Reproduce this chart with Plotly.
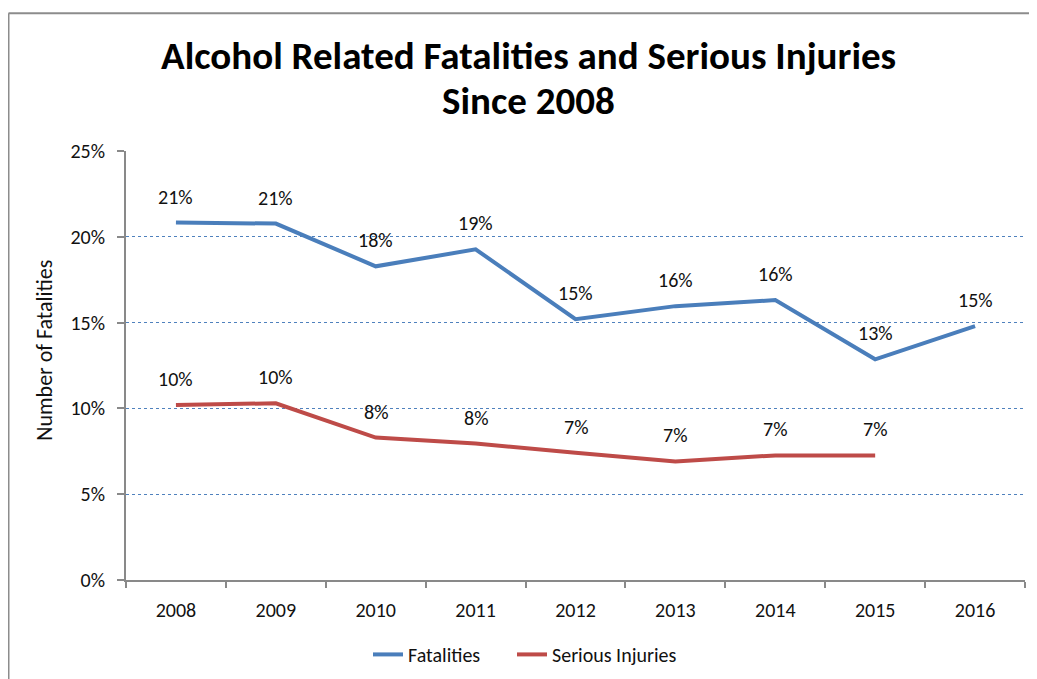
import plotly.graph_objects as go

years = ["2008", "2009", "2010", "2011", "2012", "2013", "2014", "2015", "2016"]
fatalities = [0.2083, 0.2077, 0.1828, 0.1927, 0.1520, 0.1596, 0.1631, 0.1286, 0.1480]
serious_years = ["2008", "2009", "2010", "2011", "2012", "2013", "2014", "2015"]
serious = [0.1020, 0.1030, 0.0830, 0.0795, 0.0741, 0.0691, 0.0726, 0.0726]
title_lines = ["Alcohol Related Fatalities and Serious Injuries", "Since 2008"]

BLUE = "#4A7EBB"
RED = "#BE4B48"
GRAY = "#898989"
FONT = "Calibri, Carlito, Lato, sans-serif"

W, H = 1037, 679
OFF = 8  # page body margin
# plot area in screen pixels
L, R, T, B = 126, 1025, 151, 580.5

def px(xs):
    return (xs - L) / (R - L)

def py(ys):
    return (B - ys) / (B - T)

fig = go.Figure()
fig.add_trace(go.Scatter(x=years, y=fatalities, mode="lines", name="Fatalities",
                         line=dict(color=BLUE, width=4), legend="legend"))
fig.add_trace(go.Scatter(x=serious_years, y=serious, mode="lines", name="Serious Injuries",
                         line=dict(color=RED, width=4), legend="legend2"))

annotations = []
for xs, ys in ((years, fatalities), (serious_years, serious)):
    for xv, yv in zip(xs, ys):
        annotations.append(dict(x=years.index(xv), y=yv, xref="x", yref="y",
                                text=f"{yv:.0%}", showarrow=False, yshift=26,
                                font=dict(family=FONT, size=20, color="#111")))

for line_text, ys in zip(title_lines, (55, 100)):
    annotations.append(dict(x=px(528), y=py(ys), xref="paper", yref="paper",
                            text=f"<b>{line_text}</b>", showarrow=False,
                            xanchor="center", yanchor="middle",
                            font=dict(family=FONT, size=39, color="black")))

annotations.append(dict(x=px(45), y=py(351), xref="paper", yref="paper",
                        text="Number of Fatalities", textangle=-90, showarrow=False,
                        xanchor="center", yanchor="middle",
                        font=dict(family=FONT, size=22, color="#111")))

shapes = [
    dict(type="line", xref="paper", yref="paper", x0=px(8.5), x1=px(W + 20),
         y0=py(13), y1=py(13), line=dict(color="#8C8C8C", width=2)),
    dict(type="line", xref="paper", yref="paper", x0=px(8.5), x1=px(8.5),
         y0=py(13), y1=py(H + 20), line=dict(color="#8C8C8C", width=2)),
]

legend_style = dict(orientation="h", xanchor="left", y=py(655), yanchor="middle",
                    font=dict(family=FONT, size=20, color="#111"),
                    bgcolor="rgba(0,0,0,0)")

fig.update_layout(
    width=W, height=H,
    margin=dict(l=L - OFF, r=W - (R - OFF), t=T - OFF, b=H - (B - OFF)),
    paper_bgcolor="white", plot_bgcolor="white",
    font=dict(family=FONT, color="#111"),
    showlegend=True,
    legend=dict(x=px(368), **legend_style),
    legend2=dict(x=px(512), **legend_style),
    xaxis=dict(type="category", range=[-0.5, 8.5], showgrid=False, showline=True,
               linecolor=GRAY, linewidth=2, ticks="outside", tickson="boundaries",
               ticklen=6, tickcolor=GRAY, tickwidth=1.5,
               tickfont=dict(family=FONT, size=20, color="#111"), ticklabelstandoff=11),
    yaxis=dict(range=[0, 0.25], dtick=0.05, tickformat=".0%", showgrid=True,
               gridcolor="#4F81BD", griddash="dot", gridwidth=1, zeroline=False,
               showline=True, linecolor=GRAY, linewidth=2, ticks="outside",
               ticklen=7, tickcolor=GRAY, tickwidth=1.5,
               tickfont=dict(family=FONT, size=20, color="#111"), ticklabelstandoff=8),
    annotations=annotations,
    shapes=shapes,
)

fig.write_html("out.html")
